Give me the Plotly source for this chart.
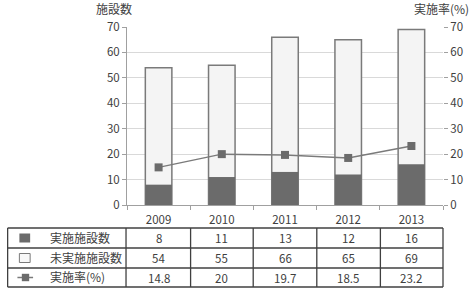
import plotly.graph_objects as go

years = ["2009", "2010", "2011", "2012", "2013"]
implemented = [8, 11, 13, 12, 16]
not_implemented = [54, 55, 66, 65, 69]
rate = [14.8, 20, 19.7, 18.5, 23.2]
row_labels = ["実施施設数", "未実施施設数", "実施率(%)"]
rate_text = ["14.8", "20", "19.7", "18.5", "23.2"]

W, H = 475, 291
L, R, T, B = 127, 450, 27, 205  # plot area in pixels
FONT = "Noto Sans CJK JP"
TXT = "#404040"

def px(x):
    return (x - L) / (R - L)

def py(y):
    return (B - y) / (B - T)

fig = go.Figure()
fig.add_trace(go.Bar(x=years, y=not_implemented, name=row_labels[1],
                     marker=dict(color="#f4f4f4", line=dict(color="#7a7a7a", width=1.5)),
                     width=0.42))
fig.add_trace(go.Bar(x=years, y=implemented, name=row_labels[0],
                     marker=dict(color="#6b6b6b", line=dict(color="#6b6b6b", width=0)),
                     width=0.42))
fig.add_trace(go.Scatter(x=years, y=rate, name=row_labels[2], yaxis="y2", mode="lines+markers",
                         line=dict(color="#7a7a7a", width=1.5),
                         marker=dict(symbol="square", size=8, color="#6b6b6b")))

axis_common = dict(range=[0, 70], dtick=10, ticks="outside", ticklen=4, tickcolor="#a0a0a0",
                   tickfont=dict(family=FONT, size=11.5, color=TXT), zeroline=False)
fig.update_layout(
    width=W, height=H, margin=dict(l=L, r=W - R, t=T, b=H - B),
    barmode="overlay", showlegend=False, plot_bgcolor="white", paper_bgcolor="white",
    font=dict(family=FONT, color=TXT),
    xaxis=dict(type="category", range=[-0.5, len(years) - 0.5], autorange=False,
               showline=True, linecolor="#a0a0a0", linewidth=1, ticks="outside",
               ticklen=4, tickcolor="#a0a0a0", tickson="boundaries", showgrid=False,
               tickangle=0, ticklabelstandoff=4,
               tickfont=dict(family=FONT, size=11.5, color=TXT)),
    yaxis=dict(**axis_common, showgrid=True, gridcolor="#d9d9d9", gridwidth=1,
               showline=True, linecolor="#a0a0a0", linewidth=1),
    yaxis2=dict(**axis_common, overlaying="y", side="right", showgrid=False, showline=False),
)

ann = []
ann.append(dict(x=px(114), y=py(8), xref="paper", yref="paper", text="施設数", showarrow=False,
                xanchor="center", yanchor="middle",
                font=dict(size=12, color=TXT, family=FONT)))
ann.append(dict(x=px(448), y=py(8), xref="paper", yref="paper", text="実施率(%)", showarrow=False,
                xanchor="center", yanchor="middle",
                font=dict(size=12, color=TXT, family=FONT)))

# table geometry (pixels)
tx0, tx1 = 5, 450
col1 = 126
rows_y = [228, 248, 268, 287]
shapes = []
lc = "#404040"
for yv in rows_y:
    shapes.append(dict(type="line", xref="paper", yref="paper", x0=px(tx0), x1=px(tx1),
                       y0=py(yv), y1=py(yv), line=dict(color=lc, width=1.3)))
for xv in [tx0, col1, 192, 256, 321, 386, tx1]:
    shapes.append(dict(type="line", xref="paper", yref="paper", x0=px(xv), x1=px(xv),
                       y0=py(rows_y[0]), y1=py(rows_y[-1]), line=dict(color=lc, width=1.3)))

centers = [(rows_y[i] + rows_y[i + 1]) / 2 for i in range(3)]
# legend icons
c0 = centers[0]
shapes.append(dict(type="rect", xref="paper", yref="paper", x0=px(17), x1=px(28),
                   y0=py(c0 - 4.5), y1=py(c0 + 4.5), fillcolor="#6b6b6b", line=dict(width=0)))
c1 = centers[1]
shapes.append(dict(type="rect", xref="paper", yref="paper", x0=px(17), x1=px(28),
                   y0=py(c1 - 4.5), y1=py(c1 + 4.5), fillcolor="#f8f8f8",
                   line=dict(color="#7a7a7a", width=1)))
c2 = centers[2]
shapes.append(dict(type="line", xref="paper", yref="paper", x0=px(15), x1=px(31),
                   y0=py(c2), y1=py(c2), line=dict(color="#7a7a7a", width=1.5)))
shapes.append(dict(type="rect", xref="paper", yref="paper", x0=px(19.5), x1=px(27),
                   y0=py(c2 - 3.7), y1=py(c2 + 3.7), fillcolor="#6b6b6b", line=dict(width=0)))

for i, lab in enumerate(row_labels):
    ann.append(dict(x=px(46), y=py(centers[i] - 1), xref="paper", yref="paper", text=lab,
                    showarrow=False, xanchor="left", yanchor="middle",
                    font=dict(size=12, color=TXT, family=FONT)))

rows_vals = [[str(v) for v in implemented], [str(v) for v in not_implemented], rate_text]
for i, vals in enumerate(rows_vals):
    for j, v in enumerate(vals):
        ann.append(dict(x=j, y=py(centers[i]), xref="x", yref="paper", text=v, showarrow=False,
                        xanchor="center", yanchor="middle",
                        font=dict(size=11.5, color=TXT, family=FONT)))

fig.update_layout(annotations=ann, shapes=shapes)
fig.write_html("out.html")
